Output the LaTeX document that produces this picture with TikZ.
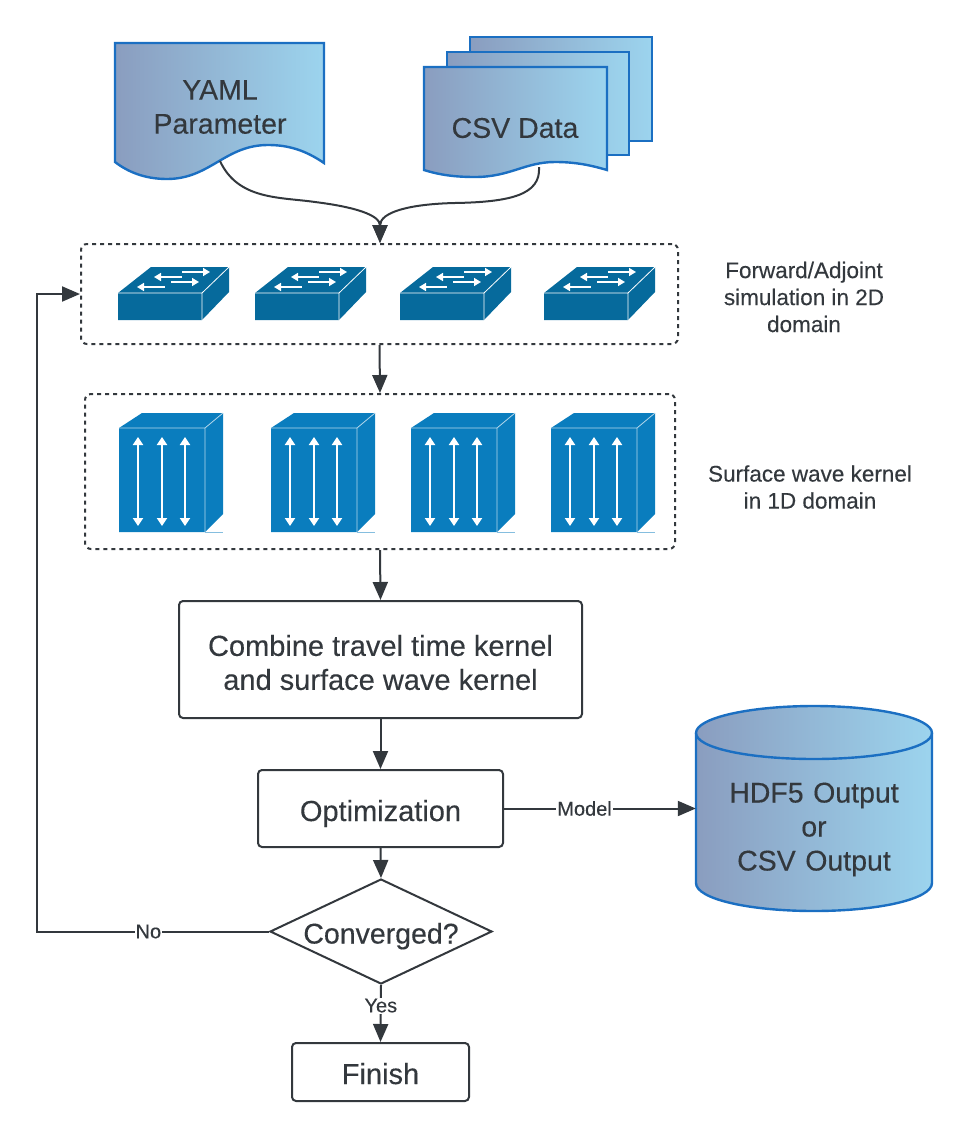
\documentclass[tikz,border=0pt]{standalone}
\usepackage{fontspec}
\setmainfont{Liberation Sans}[FakeBold=0.25]
\usetikzlibrary{arrows.meta,shapes.geometric}
\definecolor{inkgray}{HTML}{33383D}
\definecolor{edgeblue}{HTML}{1B6FC2}
\definecolor{fadeleft}{HTML}{8A9DBF}
\definecolor{faderight}{HTML}{9CD4EE}
\definecolor{switchblue}{HTML}{066A9C}
\definecolor{cubeblue}{HTML}{0A7DBE}
\tikzset{
  sheet/.style={draw=edgeblue,line width=2.4pt,left color=fadeleft,right color=faderight,line join=miter},
  flowbox/.style={draw=inkgray,line width=2pt,rounded corners=4pt,fill=white,text=inkgray,align=center,font=\fontsize{29}{34}\selectfont},
  dashbox/.style={draw=inkgray,line width=2pt,dash pattern=on 4pt off 4pt,rounded corners=6pt},
  flow/.style={draw=inkgray,line width=2pt,-{Triangle[length=18pt,width=15pt]}},
  bigtext/.style={text=inkgray,align=center,font=\fontsize{28.5}{34}\selectfont},
  sidetext/.style={text=inkgray,align=center,font=\fontsize{22.5}{27}\selectfont},
  edgetext/.style={fill=white,inner sep=1pt,text=inkgray,font=\fontsize{20}{22}\selectfont},
  whitearrow/.style={draw=white,line width=1.5pt,{Triangle[length=7pt,width=8pt]}-},
  pics/switchicon/.style={code={
    \fill[switchblue] (0,26) -- (33,0) -- (111,0) -- (111,25) -- (84,53) -- (0,53) -- cycle;
    \draw[white,line width=.8pt] (0,26) -- (84,26) -- (84,53) (84,26) -- (111,0);
    \draw[whitearrow] (92,5) -- (64,5);
    \draw[whitearrow] (36,10) -- (64,10);
    \draw[whitearrow] (81,15) -- (53,15);
    \draw[whitearrow] (19,20) -- (47,20);
  }},
  pics/cubeicon/.style={code={
    \fill[cubeblue] (0,15) -- (23,0) -- (104,0) -- (104,101) -- (86,119) -- (0,119) -- cycle;
    \draw[white!70!cubeblue,line width=.8pt] (0,15) -- (86,15) -- (86,119) (86,15) -- (104,0);
    \draw[cubeblue!50,line width=.6pt] (86,119) -- (104,119);
    \foreach \ax in {19,43,66}
      \draw[white,line width=2pt,{Triangle[length=8pt,width=10pt]}-{Triangle[length=8pt,width=10pt]}] (\ax,24) -- (\ax,113);
  }}
}
\begin{document}
\begin{tikzpicture}[x=1pt,y=-1pt]
  \useasboundingbox (0,0) rectangle (969,1138);
  % input files
  \path[sheet] (115,43) -- (324,43) -- (324,163)
    .. controls (305,150) and (288,145) .. (268,145)
    .. controls (225,145) and (210,179) .. (167,179)
    .. controls (145,179) and (128,172) .. (115,162) -- cycle;
  \node[bigtext] (yaml) at (220,107) {YAML\\Parameter};
  \coordinate (yamlout) at (220,161);
  \path[sheet] (470,37) rectangle (652,141);
  \path[sheet] (447,52) rectangle (629,155);
  \path[sheet] (424,67) -- (607,67) -- (607,170)
    .. controls (590,165) and (575,162) .. (555,162)
    .. controls (525,162) and (510,177) .. (475,177)
    .. controls (455,177) and (440,175) .. (424,170) -- cycle;
  \node[bigtext] (csv) at (515,128) {CSV Data};
  \coordinate (csvout) at (539,167);
  % dashed groups
  \node[dashbox,minimum width=597pt,minimum height=100pt] (forward) at (379.5,294) {};
  \node[dashbox,minimum width=590pt,minimum height=155pt] (surface) at (380,471.5) {};
  \foreach \sx in {118,255,400,544}
    \pic at (\sx,267) {switchicon};
  \foreach \cx in {119,271,411,551}
    \pic at (\cx,413) {cubeicon};
  \node[sidetext] (forwardtext) at (804,297) {Forward/Adjoint\\simulation in 2D\\domain};
  \node[sidetext] (surfacetext) at (810,487) {Surface wave kernel\\in 1D domain};
  % main flow
  \node[flowbox,minimum width=403pt,minimum height=117pt] (combine) at (380.5,659.5) {\rule{0pt}{27pt}Combine travel time kernel\\and surface wave kernel};
  \node[flowbox,minimum width=245pt,minimum height=77pt,text height=25pt,text depth=0pt] (optim) at (380.5,808.5) {Optimization};
  \node[diamond,shape aspect=2.1,draw=inkgray,line width=2pt,fill=white,text=inkgray,inner sep=0pt,minimum width=222pt,minimum height=105pt,text height=24pt,text depth=0pt,font=\fontsize{28.5}{34}\selectfont] (conv) at (381,931.5) {Converged?};
  \node[flowbox,minimum width=177pt,minimum height=58pt,text height=24pt,text depth=0pt] (finish) at (380.5,1072) {Finish};
  % output cylinder
  \path[sheet] (696,733) .. controls (696,718) and (749,706) .. (814,706)
    .. controls (879,706) and (932,718) .. (932,733) -- (932,883)
    .. controls (932,899) and (879,911) .. (814,911)
    .. controls (749,911) and (696,899) .. (696,883) -- cycle;
  \draw[edgeblue,line width=2.4pt] (696,733) .. controls (696,748) and (749,759) .. (814,759)
    .. controls (879,759) and (932,748) .. (932,733);
  \node[bigtext,text width=236pt,inner sep=0pt] (output) at (814,829.5) {HDF5 Output\\or\\CSV Output};
  % connectors
  \draw[flow] (yamlout) .. controls (238,200) and (280,197) .. (315,202) .. controls (355,207) and (380,215) .. (380,243);
  \draw[flow] (csvout) .. controls (541,195) and (510,202) .. (455,203) .. controls (410,204) and (380,212) .. (380,243);
  \draw[flow] (forward.south) -- (surface.north);
  \draw[flow] (surface.south) -- (combine.north);
  \draw[flow] (combine.south) -- (optim.north);
  \draw[flow] (optim.south) -- (conv.north);
  \draw[flow] (conv.south) -- node[edgetext,pos=.36] {Yes} (finish.north);
  \draw[flow] (optim.east) -- node[edgetext,pos=.42] {Model} (optim.east -| output.west);
  \draw[flow] (conv.west) -- node[edgetext,pos=.52] {No} (37,931.5) |- (forward.west);
\end{tikzpicture}
\end{document}
